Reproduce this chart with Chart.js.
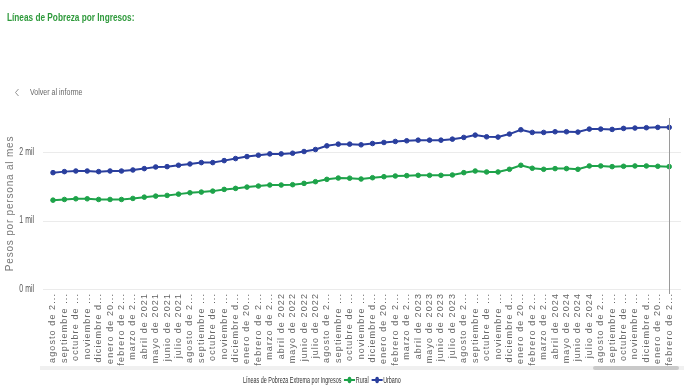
<!DOCTYPE html>
<html><head><meta charset="utf-8">
<script src="https://cdn.jsdelivr.net/npm/chart.js@4"></script>
<style>
html,body{margin:0;padding:0;background:#fff;width:684px;height:392px;overflow:hidden;font-family:"Liberation Sans",Arial,sans-serif;}
#title{position:absolute;left:7px;top:11px;font-weight:bold;font-size:11px;color:#2f9a3c;white-space:nowrap;transform:scaleX(0.75);transform-origin:0 0;}
#back{position:absolute;left:14px;top:87px;font-size:8.5px;color:#666;white-space:nowrap;}
#back svg{position:absolute;left:0;top:1px;}
#back span{position:absolute;left:16px;top:0;transform:scaleX(0.83);transform-origin:0 0;}
#wrap{position:absolute;left:0;top:0;width:684px;height:392px;}
#track{position:absolute;left:40px;top:366px;width:644px;height:4px;background:#f0f0f0;}
#thumb{position:absolute;left:593px;top:366px;width:86px;height:4px;background:#c9c9c9;border-radius:2px;}
#legend{position:absolute;left:243px;top:375px;font-size:9px;color:#333;white-space:nowrap;display:flex;align-items:center;transform:scaleX(0.6);transform-origin:0 50%;}
#legend .mk{display:inline-block;width:19px;height:10px;margin:0 1px 0 4px;vertical-align:middle;}
</style></head>
<body>
<div id="wrap"><canvas id="c" width="684" height="392"></canvas></div>
<div id="title">Líneas de Pobreza por Ingresos:</div>
<div id="back"><svg width="6" height="9" viewBox="0 0 6 9"><polyline points="4.5,1 1.5,4.5 4.5,8" fill="none" stroke="#888" stroke-width="0.9"/></svg><span>Volver al informe</span></div>
<div id="track"></div><div id="thumb"></div>
<div id="legend"><span>Líneas de Pobreza Extrema por Ingresos</span>
<svg class="mk" viewBox="0 0 19 10"><line x1="0" y1="5" x2="19" y2="5" stroke="#1ea34a" stroke-width="2.2"/><circle cx="9.5" cy="5" r="3.2" fill="#1ea34a"/></svg><span>Rural</span>
<svg class="mk" viewBox="0 0 19 10"><line x1="0" y1="5" x2="19" y2="5" stroke="#2a3f9e" stroke-width="2.2"/><circle cx="9.5" cy="5" r="3.2" fill="#2a3f9e"/></svg><span>Urbano</span>
</div>
<script>
const categories = [
 "agosto de 2020","septiembre de 2020","octubre de 2020","noviembre de 2020","diciembre de 2020",
 "enero de 2021","febrero de 2021","marzo de 2021","abril de 2021","mayo de 2021","junio de 2021","julio de 2021","agosto de 2021","septiembre de 2021","octubre de 2021","noviembre de 2021","diciembre de 2021",
 "enero de 2022","febrero de 2022","marzo de 2022","abril de 2022","mayo de 2022","junio de 2022","julio de 2022","agosto de 2022","septiembre de 2022","octubre de 2022","noviembre de 2022","diciembre de 2022",
 "enero de 2023","febrero de 2023","marzo de 2023","abril de 2023","mayo de 2023","junio de 2023","julio de 2023","agosto de 2023","septiembre de 2023","octubre de 2023","noviembre de 2023","diciembre de 2023",
 "enero de 2024","febrero de 2024","marzo de 2024","abril de 2024","mayo de 2024","junio de 2024","julio de 2024","agosto de 2024","septiembre de 2024","octubre de 2024","noviembre de 2024","diciembre de 2024",
 "enero de 2025","febrero de 2025"];
const tickLabels = [
 "agosto de 2...","septiembre ...","octubre de ...","noviembre ...","diciembre d...",
 "enero de 20...","febrero de 2...","marzo de 2...","abril de 2021","mayo de 2021","junio de 2021","julio de 2021","agosto de 2...","septiembre ...","octubre de ...","noviembre ...","diciembre d...",
 "enero de 20...","febrero de 2...","marzo de 2...","abril de 2022","mayo de 2022","junio de 2022","julio de 2022","agosto de 2...","septiembre ...","octubre de ...","noviembre ...","diciembre d...",
 "enero de 20...","febrero de 2...","marzo de 2...","abril de 2023","mayo de 2023","junio de 2023","julio de 2023","agosto de 2...","septiembre ...","octubre de ...","noviembre ...","diciembre d...",
 "enero de 20...","febrero de 2...","marzo de 2...","abril de 2024","mayo de 2024","junio de 2024","julio de 2024","agosto de 2...","septiembre ...","octubre de ...","noviembre ...","diciembre d...",
 "enero de 20...","febrero de 2..."];
const rural = [1299,1309,1319,1319,1309,1309,1309,1324,1343,1358,1368,1387,1407,1417,1431,1456,1471,1490,1505,1520,1520,1525,1544,1569,1603,1622,1620,
 1608,1627,1642,1652,1657,1662,1662,1662,1667,1701,1725,1711,1711,1750,1809,1765,1750,1760,1760,1750,1799,1799,1789,1794,1799,1799,1794,1789];
const urbano = [1701,1716,1725,1725,1716,1725,1725,1740,1760,1784,1789,1809,1828,1848,1848,1877,1907,1936,1956,1975,1975,1985,2010,2039,2093,2118,2118,
 2108,2127,2142,2157,2167,2176,2176,2176,2191,2216,2250,2225,2221,2265,2328,2289,2289,2299,2299,2294,2338,2338,2333,2348,2353,2358,2363,2363];
const yTicks = [0,1000,2000];
const yTickLabels = ["0 mil","1 mil","2 mil"];

const GREEN = '#1ea34a', BLUE = '#2a3f9e';
const Y_TICK_PAD = 19;

function withSpacing(fn, sp){
  return function(...a){ const c=this.ctx; const p=c.letterSpacing; c.letterSpacing=sp; fn.apply(this,a); c.letterSpacing=p; };
}
function squeezed(fn, k){
  return function(...a){
    const c=this.ctx, ax=this.right - Y_TICK_PAD;
    c.save(); c.translate(ax,0); c.scale(k,1); c.translate(-ax,0);
    fn.apply(this,a); c.restore();
  };
}

const overlay = {
  id:'overlay',
  afterLayout(chart){
    const sx = chart.scales.x, sy = chart.scales.y;
    if(!sx._sp){ sx.drawLabels = withSpacing(sx.drawLabels, '1.1px'); sx._sp = true; }
    if(!sy._sp){ sy.drawTitle = withSpacing(sy.drawTitle, '0.8px'); sy.drawLabels = squeezed(sy.drawLabels, 0.66); sy._sp = true; }
  },
  beforeDatasetsDraw(chart){
    const ctx = chart.ctx, y = chart.scales.y;
    ctx.save();
    ctx.strokeStyle = '#ebebeb'; ctx.lineWidth = 1;
    yTicks.forEach(v=>{
      const py = Math.round(y.getPixelForValue(v))+0.5;
      ctx.beginPath(); ctx.moveTo(43,py); ctx.lineTo(681,py); ctx.stroke();
    });
    ctx.restore();
  },
  afterDatasetsDraw(chart){
    const ctx = chart.ctx, x = chart.scales.x;
    const px = Math.round(x.getPixelForValue(categories.length-1))+0.5;
    ctx.save();
    ctx.strokeStyle = '#9a9a9a'; ctx.lineWidth = 1;
    ctx.beginPath(); ctx.moveTo(px,118); ctx.lineTo(px,294); ctx.stroke();
    ctx.restore();
  }
};

new Chart(document.getElementById('c'), {
  type:'line',
  data:{
    labels: categories,
    datasets:[
      {label:'Rural', data: rural, borderColor:GREEN, backgroundColor:GREEN, pointBackgroundColor:GREEN, pointBorderColor:GREEN, borderWidth:2, pointRadius:2.3, pointBorderWidth:1, tension:0},
      {label:'Urbano', data: urbano, borderColor:BLUE, backgroundColor:BLUE, pointBackgroundColor:BLUE, pointBorderColor:BLUE, borderWidth:2, pointRadius:2.3, pointBorderWidth:1, tension:0}
    ]
  },
  options:{
    responsive:false, animation:false,
    events:[],
    layout:{padding:{left:0,right:14,top:118,bottom:26}},
    plugins:{legend:{display:false}, tooltip:{enabled:false}},
    scales:{
      x:{
        offset:false,
        grid:{display:false, drawTicks:false}, border:{display:false},
        ticks:{autoSkip:false, maxRotation:90, minRotation:90, padding:4, color:'#666',
          font:{family:'Liberation Sans', size:9},
          callback:(v,i)=>tickLabels[i]},
        afterFit(s){ s.height = 77; }
      },
      y:{
        min:0, max:2500,
        grid:{display:false, drawTicks:false}, border:{display:false},
        afterBuildTicks(s){ s.ticks = yTicks.map(v=>({value:v})); },
        ticks:{padding:Y_TICK_PAD, color:'#555', font:{family:'Liberation Sans', size:10.5},
          callback:(v)=>yTickLabels[yTicks.indexOf(v)]},
        title:{display:true, text:'Pesos por persona al mes', color:'#777',
          font:{family:'Liberation Sans', size:10}, padding:{top:4,bottom:0}},
        afterFit(s){ s.width = 53; }
      }
    }
  },
  plugins:[overlay]
});
</script>
</body></html>
